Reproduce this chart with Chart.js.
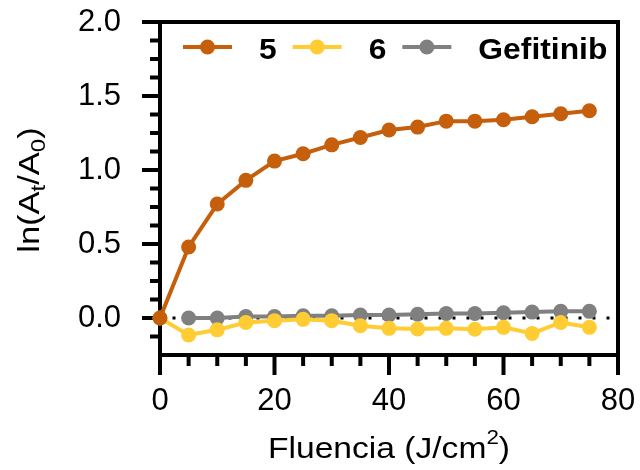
<!DOCTYPE html>
<html>
<head>
<meta charset="utf-8">
<script src="https://cdn.jsdelivr.net/npm/chart.js@4/dist/chart.umd.min.js"></script>
<style>body{margin:0;background:#fff}</style>
</head>
<body>
<canvas id="graf" width="640" height="470"></canvas>
<script>
// datos
const fluencia  = [0, 5, 10, 15, 20, 25, 30, 35, 40, 45, 50, 55, 60, 65, 70, 75];
const serie5    = [0, 0.48, 0.77, 0.93, 1.06, 1.11, 1.17, 1.22, 1.27, 1.29, 1.33, 1.33, 1.34, 1.36, 1.38, 1.40];
const serie6    = [0, -0.115, -0.08, -0.03, -0.018, -0.009, -0.018, -0.052, -0.07, -0.074, -0.07, -0.076, -0.063, -0.104, -0.03, -0.063];
const gefitinib = [null, 0.0, 0.0, 0.01, 0.01, 0.015, 0.015, 0.02, 0.02, 0.025, 0.03, 0.03, 0.035, 0.04, 0.045, 0.045];
const etiquetas = ['5', '6', 'Gefitinib'];
const colores   = ['#C55F0B', '#FFCC33', '#808080'];
const ticksY = [0, 0.5, 1, 1.5, 2];
const ticksX = [0, 20, 40, 60, 80];
const paso = { x: 5, y: 0.125 };   // marcas menores

const fuente = "'Liberation Sans', Arial, sans-serif";

const pares = vals => fluencia.map((x, i) => ({ x, y: vals[i] }));
const cfg = (label, color, vals) => ({
  label, data: pares(vals), borderColor: color, backgroundColor: color,
  borderWidth: 4, pointRadius: 7.5, pointHoverRadius: 7.5, pointBorderWidth: 0,
  tension: 0, clip: false
});
// rejilla invisible: solo sirve para separar las etiquetas del eje
const sinRejilla = largo => ({ display: true, drawOnChartArea: false, tickLength: largo, tickColor: 'rgba(0,0,0,0)' });

const ejes = {
  id: 'ejes',
  beforeDatasetsDraw(chart) {
    const { ctx, chartArea: a, scales: { x, y } } = chart;
    ctx.save();
    // linea punteada en cero
    const y0 = y.getPixelForValue(0);
    ctx.strokeStyle = '#000';
    ctx.lineWidth = 3;
    ctx.setLineDash([3, 11]);
    ctx.lineDashOffset = -12.5;
    ctx.beginPath(); ctx.moveTo(a.left, y0); ctx.lineTo(a.right, y0); ctx.stroke();
    ctx.setLineDash([]);
    // marco
    ctx.lineWidth = 4;
    ctx.strokeRect(a.left, a.top, a.right - a.left, a.bottom - a.top);
    ctx.beginPath();
    for (let k = -1; k * paso.y <= 2 + 1e-9; k++) {
      const v = k * paso.y, py = y.getPixelForValue(v);
      const len = k % 4 === 0 ? 18 : 10;
      ctx.moveTo(a.left - len, py); ctx.lineTo(a.left, py);
    }
    for (let v = 0; v <= 80; v += paso.x) {
      const px = x.getPixelForValue(v);
      const len = v % 20 === 0 ? 20 : 11;
      ctx.moveTo(px, a.bottom); ctx.lineTo(px, a.bottom + len);
    }
    ctx.stroke();
    ctx.restore();
  },
  afterDatasetsDraw(chart) {
    const { ctx, chartArea: a } = chart;
    ctx.save();
    // leyenda
    let px = a.left + 23;
    const ly = 47;
    ctx.font = 'bold 30px ' + fuente;
    ctx.textBaseline = 'alphabetic';
    etiquetas.forEach((t, i) => {
      ctx.strokeStyle = colores[i]; ctx.fillStyle = colores[i]; ctx.lineWidth = 4;
      ctx.beginPath(); ctx.moveTo(px, ly); ctx.lineTo(px + 49, ly); ctx.stroke();
      ctx.beginPath(); ctx.arc(px + 24.5, ly, 7.5, 0, Math.PI * 2); ctx.fill();
      px += 49 + 27;
      ctx.fillStyle = '#000';
      const w = ctx.measureText(t).width;
      ctx.save(); ctx.translate(px, 59); ctx.scale(1.06, 1); ctx.fillText(t, 0, 0); ctx.restore();
      px += w * 1.06 + 16;
    });
    // titulo eje x
    ctx.font = '30px ' + fuente;
    const base = 'Fluencia (J/cm', sup = '2', fin = ')';
    const wb = ctx.measureText(base).width, wf = ctx.measureText(fin).width;
    ctx.font = '20px ' + fuente;
    const ws = ctx.measureText(sup).width;
    ctx.save();
    ctx.translate((a.left + a.right) / 2, 458);
    ctx.scale(1.12, 1);
    let tx = -(wb + ws + wf) / 2;
    ctx.font = '30px ' + fuente; ctx.fillText(base, tx, 0); tx += wb;
    ctx.font = '20px ' + fuente; ctx.fillText(sup, tx, -14); tx += ws;
    ctx.font = '30px ' + fuente; ctx.fillText(fin, tx, 0);
    ctx.restore();
    // titulo eje y
    const partes = [['ln(A', 0], ['t', 1], ['/A', 0], ['0', 1], [')', 0]];
    const ancho = partes.reduce((s, [t, sub]) => {
      ctx.font = (sub ? '21px ' : '30px ') + fuente; return s + ctx.measureText(t).width;
    }, 0);
    ctx.translate(39, 190);
    ctx.rotate(-Math.PI / 2);
    ctx.scale(1.15, 1);
    let ty = -ancho / 2;
    partes.forEach(([t, sub]) => {
      ctx.font = (sub ? '21px ' : '30px ') + fuente;
      ctx.fillText(t, ty, sub ? 6 : 0);
      ty += ctx.measureText(t).width;
    });
    ctx.restore();
  }
};

new Chart(document.getElementById('graf'), {
  type: 'line',
  data: {
    datasets: [cfg(etiquetas[0], colores[0], serie5), cfg(etiquetas[1], colores[1], serie6), cfg(etiquetas[2], colores[2], gefitinib)]
  },
  options: {
    responsive: false,
    animation: false,
    layout: { padding: { top: 22, right: 22, left: 0, bottom: 0 } },
    plugins: { legend: { display: false }, tooltip: { enabled: false } },
    scales: {
      x: {
        type: 'linear', min: 0, max: 80,
        afterBuildTicks: s => { s.ticks = ticksX.map(v => ({ value: v })); },
        afterFit: s => { s.height = 115; },
        grid: sinRejilla(28), border: { display: false },
        ticks: { font: { size: 31, family: fuente }, color: '#000', padding: 0, maxRotation: 0 }
      },
      y: {
        min: -0.25, max: 2,
        afterBuildTicks: s => { s.ticks = ticksY.map(v => ({ value: v })); },
        afterFit: s => { s.width = 160; },
        grid: sinRejilla(39), border: { display: false },
        ticks: { font: { size: 31, family: fuente }, color: '#000', padding: 0, callback: v => v.toFixed(1) }
      }
    }
  },
  plugins: [ejes]
});
</script>
</body>
</html>
